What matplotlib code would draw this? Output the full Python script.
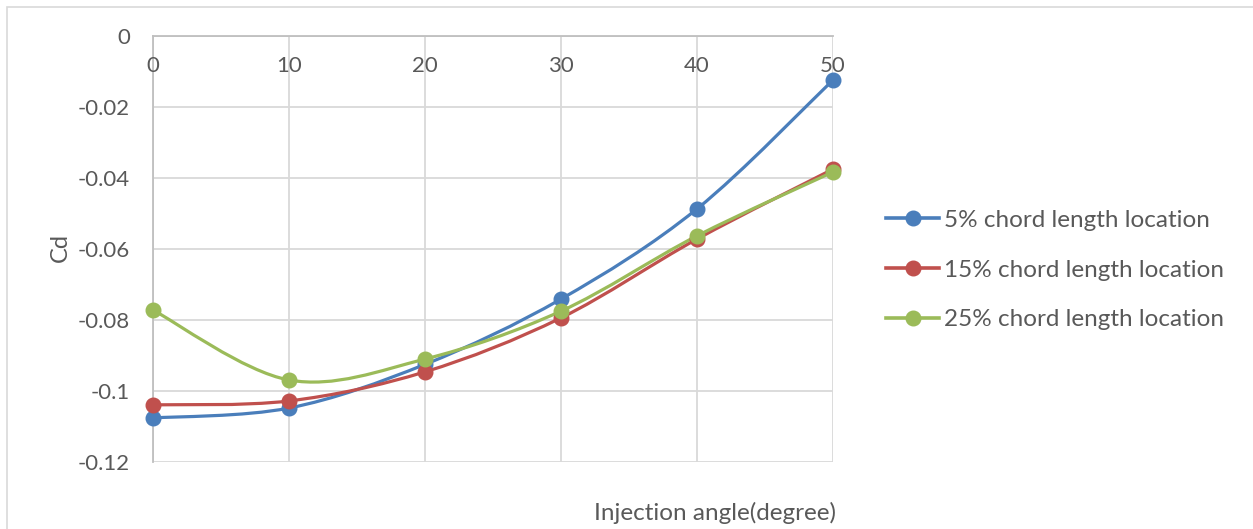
import matplotlib.pyplot as plt
from matplotlib.path import Path
from matplotlib.patches import PathPatch, Rectangle
from matplotlib.lines import Line2D
import matplotlib.transforms as mtransforms

plt.rcParams['font.family'] = ['Lato', 'DejaVu Sans']

# injection angle (degree)
angles = [0, 10, 20, 30, 40, 50]
# drag coefficient at each injection location
cd_5 = [-0.1076, -0.1048, -0.0925, -0.0741, -0.0487, -0.0124]
cd_15 = [-0.1039, -0.1028, -0.0946, -0.0794, -0.0572, -0.0375]
cd_25 = [-0.0772, -0.0969, -0.0910, -0.0775, -0.0563, -0.0383]

labels = ['5% chord length location', '15% chord length location', '25% chord length location']
colors = ['#4A7EBB', '#C0504D', '#9BBB59']
y_ticks = [0, -0.02, -0.04, -0.06, -0.08, -0.1, -0.12]
y_ticklabels = ['0', '-0.02', '-0.04', '-0.06', '-0.08', '-0.1', '-0.12']

TXT = '#595959'
GRID = '#D9D9D9'


def smooth_path(xs, ys):
    # bezier segments through the points, like a spreadsheet "smoothed line"
    pts = list(zip(xs, ys))
    n = len(pts)
    verts = [pts[0]]
    codes = [Path.MOVETO]
    for i in range(n - 1):
        p0 = pts[i - 1] if i > 0 else pts[i]
        p1 = pts[i]
        p2 = pts[i + 1]
        p3 = pts[i + 2] if i + 2 < n else pts[i + 1]
        c1 = (p1[0] + (p2[0] - p0[0]) / 6, p1[1] + (p2[1] - p0[1]) / 6)
        c2 = (p2[0] - (p3[0] - p1[0]) / 6, p2[1] - (p3[1] - p1[1]) / 6)
        verts += [c1, c2, p2]
        codes += [Path.CURVE4] * 3
    return Path(verts, codes)


fig = plt.figure(figsize=(12.53, 5.29), dpi=100)
fig.patches.append(Rectangle((7 / 1253, -0.1), 1.2, 1 - 7 / 529 + 0.1,
                             transform=fig.transFigure, fill=False,
                             edgecolor=GRID, linewidth=1.2))

ax = fig.add_axes([153 / 1253, 1 - 462 / 529, 680 / 1253, 426 / 529])
ax.set_xlim(0, 50)
ax.set_ylim(-0.12, 0)

ax.set_xticks(angles)
ax.set_xticklabels([])
ax.set_yticks(y_ticks)
ax.set_yticklabels(y_ticklabels)
ax.tick_params(axis='x', length=0)
ax.tick_params(axis='y', length=0, pad=16.5, labelsize=16, labelcolor=TXT)
ax.grid(True, color=GRID, linewidth=1.3)
ax.set_axisbelow(True)
for s in ['right', 'bottom']:
    ax.spines[s].set_visible(False)
for s in ['left', 'top']:
    ax.spines[s].set_color('#BFBFBF')
    ax.spines[s].set_linewidth(1.3)

# x tick labels sit just under the axis line at Cd = 0
trans = mtransforms.blended_transform_factory(ax.transData, ax.transAxes)
for a in angles:
    ax.text(a, 1 - 30 / 426, str(a), transform=trans, ha='center', va='center',
            fontsize=16, color=TXT)

handles = []
for ys, c, lab in zip([cd_5, cd_15, cd_25], colors, labels):
    ax.add_patch(PathPatch(smooth_path(angles, ys), facecolor='none',
                           edgecolor=c, linewidth=2.3, zorder=3))
    ax.plot(angles, ys, linestyle='none', marker='o', markersize=10.5,
            color=c, zorder=4, clip_on=False)
    handles.append(Line2D([], [], color=c, linewidth=2.6, marker='o', markersize=10.5))

fig.text(60 / 1253, 1 - 248 / 529, 'Cd', rotation=90, ha='center', va='center',
         fontsize=17, color=TXT)
fig.text(715 / 1253, 1 - 513 / 529, 'Injection angle(degree)', ha='center', va='center',
         fontsize=17.5, color=TXT)

fig.legend(handles, labels, loc='center left', bbox_to_anchor=(886 / 1253, 1 - 270 / 529),
           frameon=False, fontsize=17.5, labelcolor=TXT, handlelength=2.2,
           handletextpad=0.2, labelspacing=1.18, borderaxespad=0, borderpad=0)

fig.savefig('out.png', dpi=100)
